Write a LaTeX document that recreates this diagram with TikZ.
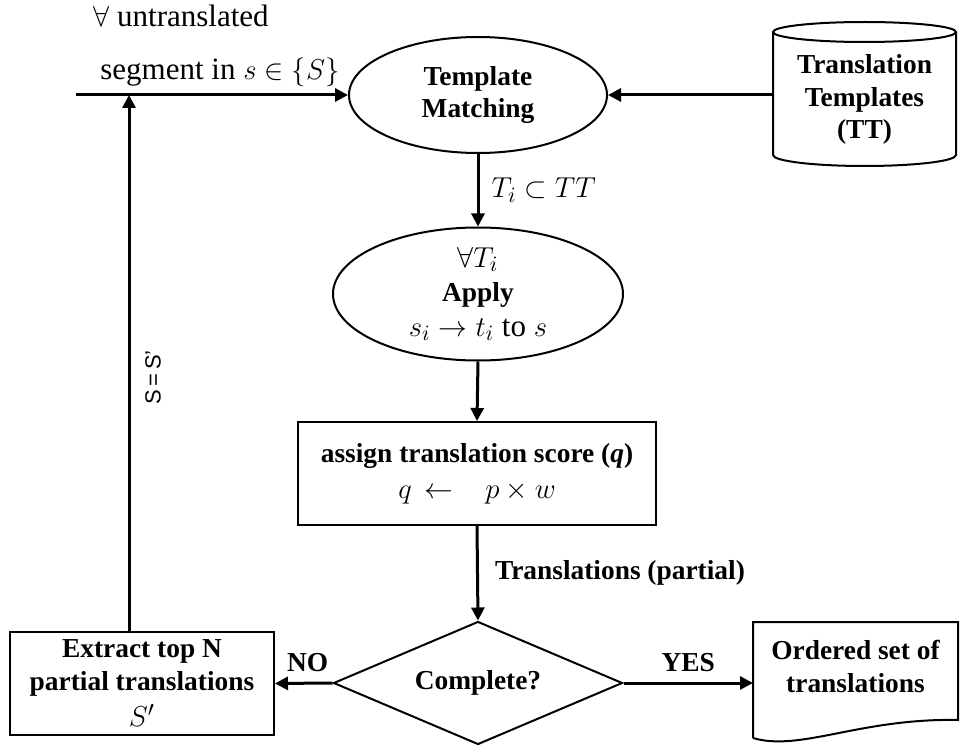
\documentclass[tikz,border=0pt]{standalone}
\usepackage{fontspec}
\setmainfont{Liberation Serif}
\setsansfont{Liberation Sans}
\usetikzlibrary{shapes.geometric,arrows.meta,positioning}
\tikzset{
  flow/.style={
    draw,
    line width=1pt,
    align=center,
    inner sep=0pt,
    font=\fontsize{13.7}{16}\selectfont\bfseries,
  },
  oval/.style={flow, ellipse},
  arrow/.style={
    line width=1.5pt,
    -{Triangle[length=6.5pt,width=6.5pt]},
  },
  side text/.style={
    font=\fontsize{15.5}{18}\selectfont,
    inner sep=0pt,
  },
  yes no/.style={
    font=\fontsize{13.7}{16}\selectfont\bfseries,
    inner sep=0pt,
  }
}

\begin{document}
\begin{tikzpicture}[x=0.5pt,y=-0.5pt]
        \useasboundingbox (0,0) rectangle (960,749);

        \node [oval, minimum width=129pt, minimum height=58pt] (tmatch) at (478,95) {Template\\Matching};
        \node [flow, draw=none, minimum width=91.5pt] (ttempl) at (864.5,99)
               {Translation\\[0.5pt]Templates\\(TT)};
        % database cylinder
        \draw [line width=1pt] (864.5,32) ellipse [x radius=45.75pt, y radius=5pt];
        \draw [line width=1pt] (773,32) -- (773,155) arc [start angle=180, end angle=360,
              x radius=45.75pt, y radius=5.5pt] -- (956,32);
        \node [oval, minimum width=145pt, minimum height=66.5pt] (apply) at (478,294)
               {\fontsize{15.5}{18}\selectfont$\forall T_i$\\[1pt]
                Apply\\[1.5pt]
                \fontsize{15.5}{18}\selectfont\mdseries$s_i \rightarrow t_i$ \textrm{to} $s$};
        \node [flow, minimum width=179pt, minimum height=51.5pt] (score) at (477,473.5)
               {assign translation score (\textit{q})\\[2pt]
                \fontsize{15.5}{18}\selectfont$q \,\leftarrow\;\;\; p \times w$};
        \node [flow, diamond, aspect=2.35, minimum width=144.5pt, minimum height=61.5pt] (complete) at (478,683)
               {Complete?};
        \node [flow, minimum width=132pt, minimum height=51.5pt] (extract) at (142,683.5)
               {Extract top N\\[0.5pt]partial translations\\[2pt]
                \fontsize{15.5}{18}\selectfont$S'$};
        \node [flow, draw=none] (ordered) at (855.5,666)
               {Ordered set of\\[0.5pt]translations};
        % document outline
        \draw [line width=1pt] (753,738) -- (753,622) -- (958,622) -- (958,720)
              .. controls (860,718) and (800,752) .. (753,738);
        \coordinate (docleft) at (753,622);

        \coordinate (entry) at (76,95);
        \coordinate (back) at ([xshift=-6.5pt]extract.north);
        \coordinate (loop) at (back |- tmatch.west);

        \node [side text, anchor=base west] (forall) at (93,27) {$\forall$ untranslated};
        \node [side text, anchor=base west] (segment) at (100,80) {segment in $s \in \{S\}$};

        \draw [arrow] (entry) -- (tmatch.west);
        \draw [arrow] (ttempl.west |- tmatch.east) -- (tmatch.east);
        \draw [arrow] (tmatch.south) -- node [side text, anchor=west, xshift=6pt] {$T_i \subset TT$} (apply.north);
        \draw [arrow] (apply.south) -- (score.north);
        \draw [arrow] (score.south) -- node [yes no, anchor=west, xshift=8pt] {Translations (partial)} (complete.north);
        \draw [arrow] (complete.east) -- node [yes no, above=5pt] {YES} (complete.east -| docleft);
        \draw [arrow] (complete.west) -- node [yes no, above=5pt, xshift=2pt] {NO} (extract.east);
        \draw [arrow] (back) -- node [pos=0.473, xshift=12pt, rotate=90,
              font=\sffamily\fontsize{11}{13}\selectfont] {S\,=\,S’} (loop);
      \end{tikzpicture}
\end{document}
